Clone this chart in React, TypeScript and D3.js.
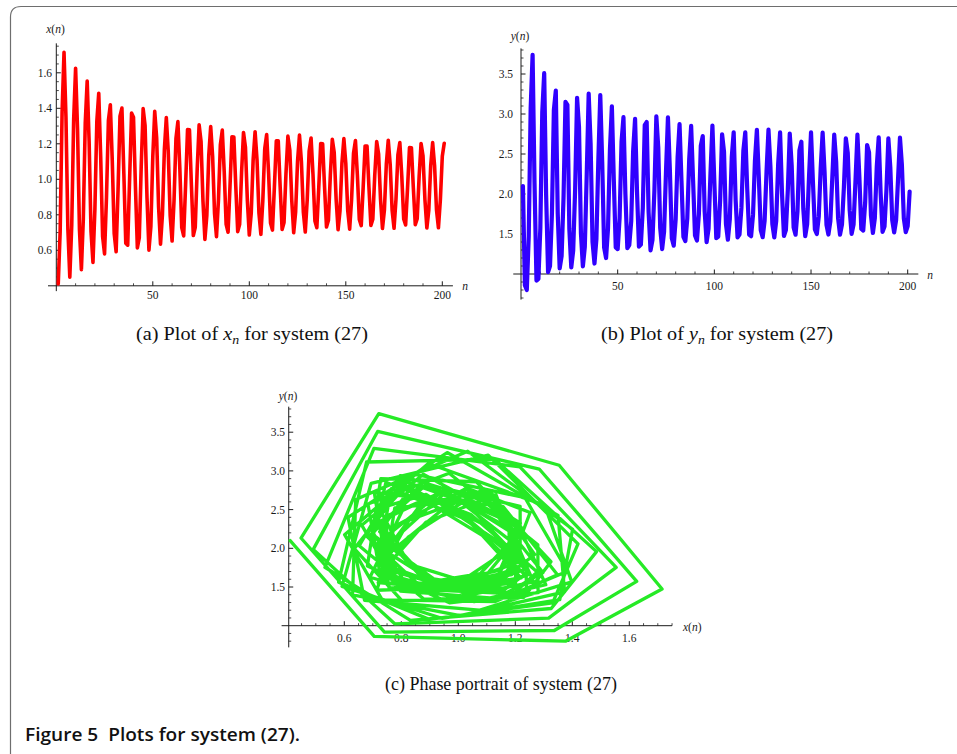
import React from 'react';
import * as d3 from 'd3';

// x(n) values (a), n = 0..200
const xValues: number[] = [
  0.41, 0.705, 1.376, 1.715, 1.354, 0.721, 0.448, 0.741, 1.337, 1.626,
  1.284, 0.717, 0.491, 0.777, 1.317, 1.554, 1.216, 0.704, 0.532, 0.832,
  1.326, 1.485, 1.127, 0.678, 0.580, 0.898, 1.331, 1.420, 1.105, 0.694,
  0.592, 0.942, 1.356, 1.401, 1.033, 0.640, 0.629, 1.006, 1.373, 1.350,
  0.961, 0.613, 0.671, 1.073, 1.398, 1.303, 0.895, 0.601, 0.733, 1.128,
  1.383, 1.234, 0.844, 0.635, 0.802, 1.167, 1.348, 1.157, 0.796, 0.652,
  0.880, 1.230, 1.325, 1.063, 0.728, 0.681, 0.969, 1.280, 1.279, 0.968,
  0.683, 0.730, 1.056, 1.307, 1.213, 0.877, 0.661, 0.797, 1.135, 1.297,
  1.128, 0.805, 0.677, 0.880, 1.193, 1.277, 1.044, 0.746, 0.702, 0.961,
  1.239, 1.238, 0.960, 0.705, 0.747, 1.039, 1.264, 1.180, 0.879, 0.686,
  0.808, 1.111, 1.268, 1.110, 0.809, 0.690, 0.879, 1.172, 1.252, 1.034,
  0.754, 0.714, 0.956, 1.217, 1.217, 0.956, 0.717, 0.757, 1.032, 1.243,
  1.164, 0.881, 0.699, 0.815, 1.101, 1.249, 1.100, 0.816, 0.703, 0.882,
  1.158, 1.233, 1.028, 0.765, 0.727, 0.955, 1.201, 1.200, 0.955, 0.731,
  0.769, 1.026, 1.225, 1.151, 0.886, 0.716, 0.823, 1.091, 1.229, 1.090,
  0.824, 0.719, 0.887, 1.146, 1.218, 1.024, 0.774, 0.739, 0.954, 1.188,
  1.187, 0.954, 0.740, 0.775, 1.022, 1.213, 1.142, 0.887, 0.723, 0.826,
  1.085, 1.220, 1.084, 0.826, 0.724, 0.887, 1.138, 1.207, 1.019, 0.777,
  0.743, 0.952, 1.179, 1.178, 0.951, 0.744, 0.778, 1.017, 1.202, 1.132,
  0.886, 0.726, 0.826, 1.077, 1.207, 1.077, 0.827, 0.727, 0.885, 1.130,
  1.203,
];

// y(n) values (b), n = 0..200
const yValues: number[] = [
  2.10, 0.861, 0.80, 1.474, 3.073, 3.74, 2.133, 0.918, 0.938, 1.573,
  3.024, 3.510, 1.986, 1.024, 1.098, 1.753, 3.052, 3.292, 1.755, 1.069,
  1.222, 1.957, 3.153, 3.115, 1.563, 1.082, 1.295, 2.058, 3.203, 2.838,
  1.508, 1.096, 1.336, 2.246, 3.254, 2.630, 1.398, 1.131, 1.437, 2.424,
  3.237, 2.399, 1.329, 1.200, 1.566, 2.555, 3.096, 2.176, 1.333, 1.311,
  1.703, 2.653, 2.960, 1.996, 1.323, 1.360, 1.658, 2.540, 2.939, 2.032,
  1.342, 1.367, 1.827, 2.860, 2.900, 1.772, 1.296, 1.426, 2.045, 2.970,
  2.572, 1.573, 1.311, 1.529, 2.286, 2.957, 2.299, 1.446, 1.354, 1.687,
  2.460, 2.873, 2.163, 1.465, 1.412, 1.693, 2.437, 2.853, 2.172, 1.480,
  1.419, 1.749, 2.605, 2.723, 1.780, 1.397, 1.566, 2.260, 2.855, 2.149,
  1.447, 1.468, 1.920, 2.746, 2.528, 1.626, 1.429, 1.683, 2.462, 2.772,
  1.927, 1.458, 1.493, 1.826, 2.541, 2.772, 2.065, 1.492, 1.472, 1.739,
  2.417, 2.801, 2.208, 1.549, 1.460, 1.666, 2.287, 2.804, 2.346, 1.623,
  1.457, 1.662, 2.374, 2.771, 2.004, 1.475, 1.549, 2.049, 2.754, 2.358,
  1.583, 1.491, 1.784, 2.545, 2.654, 1.816, 1.473, 1.622, 2.238, 2.770,
  2.144, 1.557, 1.500, 1.717, 2.325, 2.767, 2.279, 1.616, 1.493, 1.661,
  2.203, 2.742, 2.404, 1.698, 1.492, 1.617, 2.084, 2.696, 2.516, 1.795,
  1.502, 1.617, 2.168, 2.744, 2.214, 1.563, 1.544, 1.891, 2.612, 2.521,
  1.730, 1.513, 1.697, 2.343, 2.707, 2.012, 1.527, 1.592, 2.048, 2.695,
  2.336, 1.674, 1.521, 1.672, 2.184, 2.704, 2.363, 1.694, 1.524, 1.600,
  2.03,
];

const plotAXTicks = [50, 100, 150, 200];
const plotAYTicks = [0.6, 0.8, 1.0, 1.2, 1.4, 1.6];
const plotBXTicks = [50, 100, 150, 200];
const plotBYTicks = [1.5, 2.0, 2.5, 3.0, 3.5];
const phaseXTicks = [0.6, 0.8, 1.0, 1.2, 1.4, 1.6];
const phaseYTicks = [1.5, 2.0, 2.5, 3.0, 3.5];

const AXIS = '#1a1a1a';
const TICK_FONT = "'Liberation Serif', 'DejaVu Serif', serif";

function minorOf(values: number[], majors: number[], skip: number[] = []) {
  return values.filter(
    (v) => !majors.some((m) => Math.abs(m - v) < 1e-6) && !skip.some((m) => Math.abs(m - v) < 1e-6)
  );
}

type AxesProps = {
  xs: d3.ScaleLinear<number, number>;
  ys: d3.ScaleLinear<number, number>;
  xAxisAt: number;
  yAxisAt: number;
  xRange: [number, number];
  yRange: [number, number];
  xMajor: number[];
  xMinor: number[];
  yMajor: number[];
  yMinor: number[];
  xFmt: (v: number) => string;
  yFmt: (v: number) => string;
  xLabelBaseline: number;
  yLabelRight: number;
};

function Axes(p: AxesProps) {
  const ay = p.ys(p.xAxisAt);
  const ax = p.xs(p.yAxisAt);
  const majLen = 4.5;
  const minLen = 2.5;
  return (
    <g>
      <line x1={p.xs(p.xRange[0])} x2={p.xs(p.xRange[1])} y1={ay} y2={ay} stroke={AXIS} strokeWidth={1} />
      <line x1={ax} x2={ax} y1={p.ys(p.yRange[0])} y2={p.ys(p.yRange[1])} stroke={AXIS} strokeWidth={1} />
      {p.xMajor.map((v) => (
        <line key={'xM' + v} x1={p.xs(v)} x2={p.xs(v)} y1={ay} y2={ay - majLen} stroke={AXIS} strokeWidth={1} />
      ))}
      {p.xMinor.map((v) => (
        <line key={'xm' + v} x1={p.xs(v)} x2={p.xs(v)} y1={ay} y2={ay - minLen} stroke={AXIS} strokeWidth={0.8} />
      ))}
      {p.yMajor.map((v) => (
        <line key={'yM' + v} x1={ax} x2={ax + majLen} y1={p.ys(v)} y2={p.ys(v)} stroke={AXIS} strokeWidth={1} />
      ))}
      {p.yMinor.map((v) => (
        <line key={'ym' + v} x1={ax} x2={ax + minLen} y1={p.ys(v)} y2={p.ys(v)} stroke={AXIS} strokeWidth={0.8} />
      ))}
      {p.xMajor.map((v) => (
        <text key={'xt' + v} x={p.xs(v)} y={p.xLabelBaseline} textAnchor="middle" fontFamily={TICK_FONT} fontSize={11.5} fill={AXIS}>
          {p.xFmt(v)}
        </text>
      ))}
      {p.yMajor.map((v) => (
        <text key={'yt' + v} x={p.yLabelRight} y={p.ys(v)} dy="0.35em" textAnchor="end" fontFamily={TICK_FONT} fontSize={11.5} fill={AXIS}>
          {p.yFmt(v)}
        </text>
      ))}
    </g>
  );
}

function AxisName({ x, y, letter, anchor = 'middle' }: { x: number; y: number; letter: string; anchor?: string }) {
  return (
    <text x={x} y={y} textAnchor={anchor as any} fontFamily={TICK_FONT} fontSize={11.5} fill={AXIS}>
      <tspan fontStyle="italic">{letter}</tspan>(<tspan fontStyle="italic">n</tspan>)
    </text>
  );
}

export default function App() {
  const fmt1 = d3.format('.1f');
  const fmt0 = d3.format('d');
  const nIdx = xValues.map((_, i) => i + 1);

  const xA = d3.scaleLinear().domain([0, 200]).range([56.3, 442.3]);
  const yA = d3.scaleLinear().domain([0.4, 1.6]).range([285.8, 72.8]);
  const xB = d3.scaleLinear().domain([0, 200]).range([521, 907.7]);
  const yB = d3.scaleLinear().domain([1.0, 3.5]).range([274, 74]);
  const xC = d3.scaleLinear().domain([0.6, 1.6]).range([344.3, 629.3]);
  const yC = d3.scaleLinear().domain([1.5, 3.5]).range([587, 432.2]);

  const lineA = d3.line<number>().x((_, i) => xA(nIdx[i])).y((d) => yA(d))(xValues) || '';
  const lineB = d3.line<number>().x((_, i) => xB(nIdx[i])).y((d) => yB(d))(yValues) || '';
  const pairs: [number, number][] = xValues.map((x, i) => [x, yValues[i]]);
  const lineC = d3.line<[number, number]>().x((d) => xC(d[0])).y((d) => yC(d[1]))(pairs) || '';

  const nMinor = minorOf(d3.range(10, 201, 10), plotAXTicks);
  const aYMinor = minorOf(d3.range(9, 36).map((i) => +(i * 0.05).toFixed(2)), plotAYTicks);
  const bYMinor = minorOf(d3.range(7, 39).map((i) => +(i / 10).toFixed(1)), plotBYTicks, [1.0]);
  const cXMinor = minorOf(d3.range(9, 36).map((i) => +(i * 0.05).toFixed(2)), phaseXTicks);
  const cYMinor = minorOf(d3.range(8, 39).map((i) => +(i / 10).toFixed(1)), phaseYTicks, [1.0]);

  const serif = "'Liberation Serif', 'DejaVu Serif', serif";

  return (
    <svg
      width={957}
      height={754}
      viewBox="0 0 957 754"
      style={{ position: 'absolute', left: 0, top: 0, display: 'block', background: '#fff' }}
    >
      <rect x={0} y={0} width={957} height={754} fill="#fff" />
      <path d="M 10.5 754 L 10.5 17 Q 10.5 6.5 21 6.5 L 957 6.5" fill="none" stroke="#6e6e6e" strokeWidth={1.2} />

      {/* (a) */}
      <Axes
        xs={xA}
        ys={yA}
        xAxisAt={0.4}
        yAxisAt={0}
        xRange={[-4.3, 205.5]}
        yRange={[0.37, 1.766]}
        xMajor={plotAXTicks}
        xMinor={nMinor}
        yMajor={plotAYTicks}
        yMinor={aYMinor}
        xFmt={fmt0}
        yFmt={fmt1}
        xLabelBaseline={298.5}
        yLabelRight={52}
      />
      <AxisName x={55.5} y={32.5} letter="x" />
      <text x={465} y={289.5} textAnchor="middle" fontFamily={serif} fontStyle="italic" fontSize={11.5} fill={AXIS}>n</text>
      <path d={lineA} fill="none" stroke="#ff0000" strokeWidth={3.6} strokeLinejoin="round" strokeLinecap="round" />

      {/* (b) */}
      <Axes
        xs={xB}
        ys={yB}
        xAxisAt={1.0}
        yAxisAt={0}
        xRange={[-4, 205.5]}
        yRange={[0.68, 3.82]}
        xMajor={plotBXTicks}
        xMinor={nMinor}
        yMajor={plotBYTicks}
        yMinor={bYMinor}
        xFmt={fmt0}
        yFmt={fmt1}
        xLabelBaseline={289.5}
        yLabelRight={513}
      />
      <AxisName x={520} y={39.5} letter="y" />
      <text x={930} y={278.5} textAnchor="middle" fontFamily={serif} fontStyle="italic" fontSize={11.5} fill={AXIS}>n</text>
      <path d={lineB} fill="none" stroke="#3000ff" strokeWidth={4.2} strokeLinejoin="round" strokeLinecap="round" />

      {/* (c) */}
      <Axes
        xs={xC}
        ys={yC}
        xAxisAt={1.0}
        yAxisAt={0.405}
        xRange={[0.38, 1.75]}
        yRange={[0.72, 3.83]}
        xMajor={phaseXTicks}
        xMinor={cXMinor}
        yMajor={phaseYTicks}
        yMinor={cYMinor}
        xFmt={fmt1}
        yFmt={fmt1}
        xLabelBaseline={641.5}
        yLabelRight={285}
      />
      <AxisName x={288} y={399.5} letter="y" />
      <AxisName x={683} y={631} letter="x" anchor="start" />
      <path d={lineC} fill="none" stroke="#26ea26" strokeWidth={3.3} strokeLinejoin="round" strokeLinecap="round" />

      {/* captions */}
      <text x={136} y={339.5} fontFamily={serif} fontSize={19} fill="#111" textLength={232} lengthAdjust="spacingAndGlyphs">
        (a) Plot of <tspan fontStyle="italic">x</tspan>
        <tspan fontStyle="italic" fontSize={13} dy={4}>n</tspan>
        <tspan dy={-4}> for system (27)</tspan>
      </text>
      <text x={601} y={339.5} fontFamily={serif} fontSize={19} fill="#111" textLength={232} lengthAdjust="spacingAndGlyphs">
        (b) Plot of <tspan fontStyle="italic">y</tspan>
        <tspan fontStyle="italic" fontSize={13} dy={4}>n</tspan>
        <tspan dy={-4}> for system (27)</tspan>
      </text>
      <text x={385} y={689.5} fontFamily={serif} fontSize={19} fill="#111" textLength={232} lengthAdjust="spacingAndGlyphs">
        (c) Phase portrait of system (27)
      </text>
      <text
        x={25}
        y={740.5}
        fontFamily="'Open Sans', 'Noto Sans', sans-serif"
        fontWeight={600}
        fontSize={18}
        fill="#111"
        textLength={275}
        lengthAdjust="spacingAndGlyphs"
        style={{ whiteSpace: 'pre' }}
      >
        {'Figure 5  Plots for system (27).'}
      </text>
    </svg>
  );
}
